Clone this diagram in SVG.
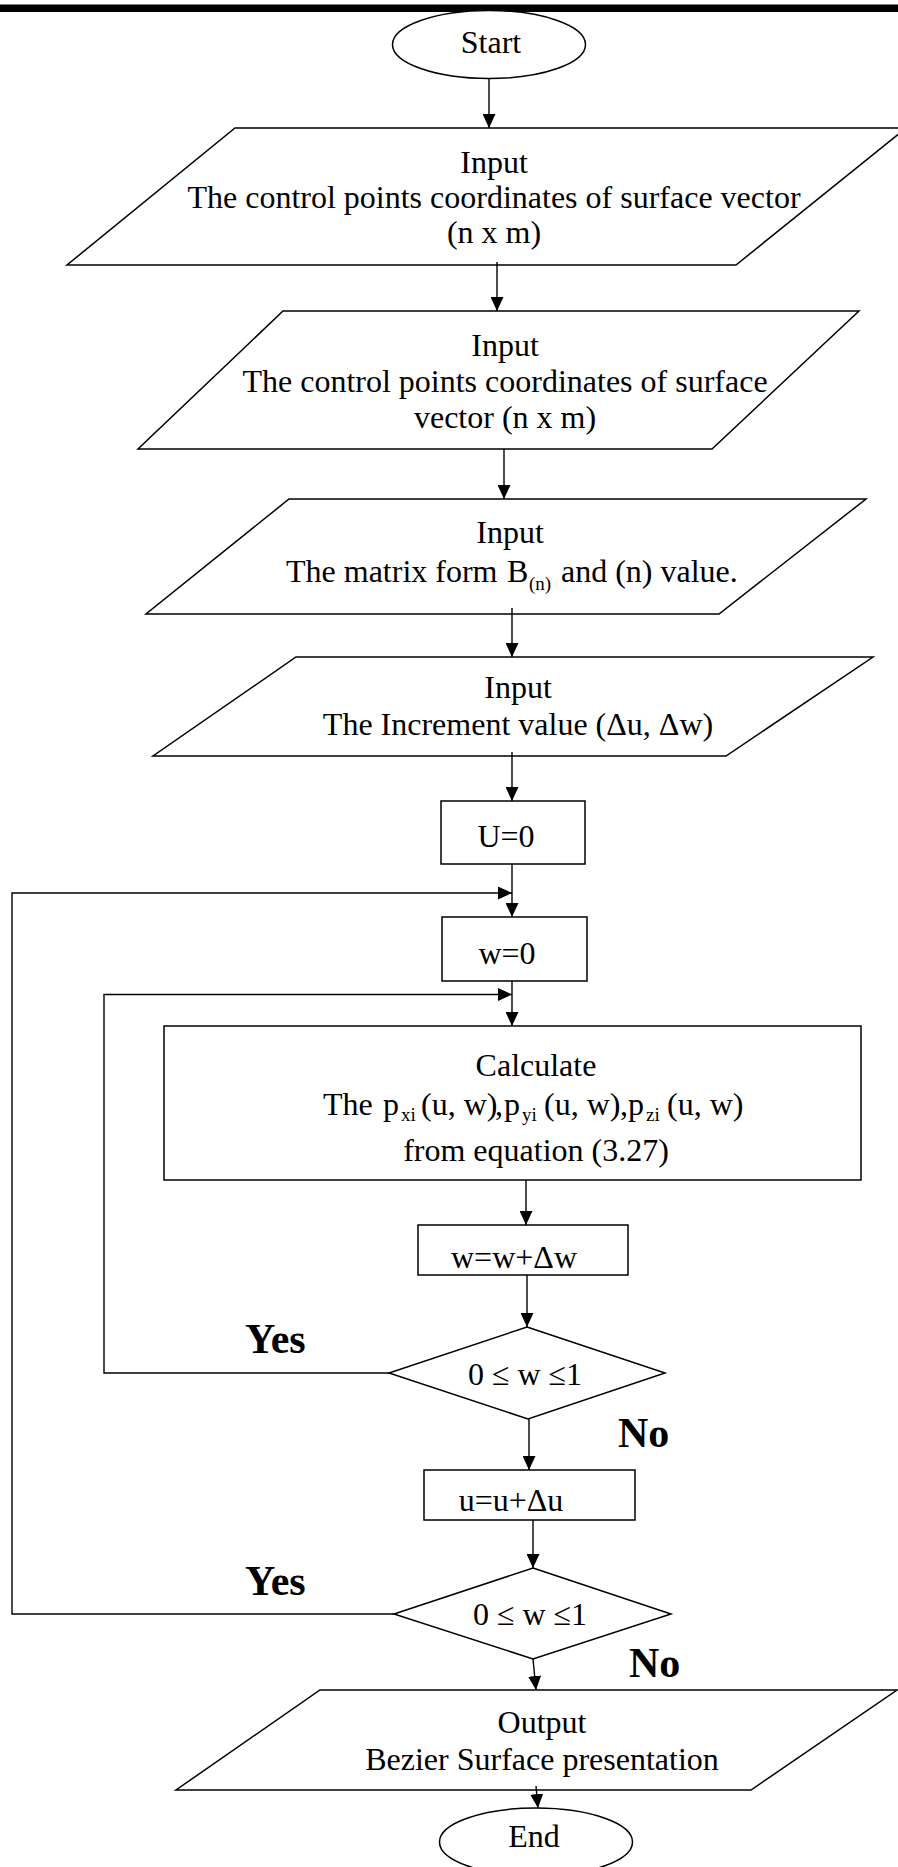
<svg xmlns="http://www.w3.org/2000/svg" width="898" height="1867" viewBox="0 0 898 1867">
<style>
.s{fill:#fff;stroke:#000;stroke-width:1.5}
.c{fill:none;stroke:#000;stroke-width:1.4}
.t{font-family:"Liberation Serif","Times New Roman",serif;font-size:32px;fill:#000}
.m{text-anchor:middle}
.sub{font-size:19px}
.b{font-family:"Liberation Serif","Times New Roman",serif;font-size:42px;font-weight:bold;fill:#000}
</style>
<defs>
<marker id="ah" markerUnits="userSpaceOnUse" markerWidth="14" markerHeight="13" refX="14" refY="6.5" orient="auto">
<path d="M0,0 L14,6.5 L0,13 Z" fill="#000"/>
</marker>
</defs>
<rect x="0" y="0" width="898" height="1867" fill="#fff"/>
<rect x="0" y="4.5" width="898" height="7.5" fill="#000"/>

<g id="start">
<ellipse class="s" cx="489" cy="44.5" rx="96.5" ry="34"/>
<text class="t m" x="491" y="53">Start</text>
</g>

<g id="input1">
<polygon class="s" points="235,128 906,128 736,265 67,265"/>
<text class="t m" x="494" y="173">Input</text>
<text class="t m" x="494" y="208">The control points coordinates of surface vector</text>
<text class="t m" x="494" y="243">(n x m)</text>
</g>

<g id="input2">
<polygon class="s" points="283,311 859,311 712,449 138,449"/>
<text class="t m" x="505" y="356">Input</text>
<text class="t m" x="505" y="392">The control points coordinates of surface</text>
<text class="t m" x="505" y="428">vector (n x m)</text>
</g>

<g id="input3">
<polygon class="s" points="289,499 866,499 719,614 146,614"/>
<text class="t m" x="510" y="543">Input</text>
<text class="t" y="582"><tspan x="286">The matrix form</tspan><tspan x="507">B</tspan><tspan class="sub" x="529" dy="8">(n)</tspan><tspan x="561" dy="-8">and (n) value.</tspan></text>
</g>

<g id="input4">
<polygon class="s" points="296,657 873,657 726,756 153,756"/>
<text class="t m" x="518" y="698">Input</text>
<text class="t m" x="518" y="735">The Increment value (Δu, Δw)</text>
</g>

<g id="u0">
<rect class="s" x="441" y="801" width="144" height="63"/>
<text class="t m" x="506" y="847">U=0</text>
</g>

<g id="w0">
<rect class="s" x="442" y="917" width="145" height="64"/>
<text class="t m" x="507" y="964">w=0</text>
</g>

<g id="calc">
<rect class="s" x="164" y="1026" width="697" height="154"/>
<text class="t m" x="536" y="1076">Calculate</text>
<text class="t" y="1115"><tspan x="323">The</tspan><tspan x="383">p</tspan><tspan class="sub" x="401" dy="6">xi</tspan><tspan x="421" dy="-6">(u, w)</tspan><tspan x="495">,</tspan><tspan x="504">p</tspan><tspan class="sub" x="522" dy="6">yi</tspan><tspan x="544" dy="-6">(u, w)</tspan><tspan x="620">,</tspan><tspan x="628">p</tspan><tspan class="sub" x="646" dy="6">zi</tspan><tspan x="667" dy="-6">(u, w)</tspan></text>
<text class="t m" x="536" y="1161">from equation (3.27)</text>
</g>

<g id="wadd">
<rect class="s" x="418" y="1225" width="210" height="50"/>
<text class="t m" x="514" y="1268">w=w+Δw</text>
</g>

<g id="dec1">
<polygon class="s" points="527,1327 665,1373 528,1419 389,1373"/>
<text class="t m" x="525" y="1385">0 ≤ w ≤1</text>
</g>

<g id="uadd">
<rect class="s" x="424" y="1470" width="211" height="50"/>
<text class="t m" x="511" y="1511">u=u+Δu</text>
</g>

<g id="dec2">
<polygon class="s" points="533,1568 671,1614 533,1659 394,1614"/>
<text class="t m" x="530" y="1625">0 ≤ w ≤1</text>
</g>

<g id="output">
<polygon class="s" points="320,1690 897,1690 751,1790 176,1790"/>
<text class="t m" x="542" y="1733">Output</text>
<text class="t m" x="542" y="1770">Bezier Surface presentation</text>
</g>

<g id="end">
<ellipse class="s" cx="536" cy="1842" rx="96.5" ry="34"/>
<text class="t m" x="534" y="1847">End</text>
</g>

<g id="labels">
<text class="b" x="245" y="1353">Yes</text>
<text class="b" x="618" y="1447">No</text>
<text class="b" x="245" y="1595">Yes</text>
<text class="b" x="629" y="1677">No</text>
</g>

<g id="connectors">
<line class="c" x1="489" y1="79" x2="489" y2="128" marker-end="url(#ah)"/>
<line class="c" x1="497" y1="262" x2="497" y2="311" marker-end="url(#ah)"/>
<line class="c" x1="504" y1="449" x2="504" y2="499" marker-end="url(#ah)"/>
<line class="c" x1="512" y1="608" x2="512" y2="657" marker-end="url(#ah)"/>
<line class="c" x1="512" y1="752" x2="512" y2="801" marker-end="url(#ah)"/>
<line class="c" x1="512" y1="864" x2="512" y2="917" marker-end="url(#ah)"/>
<polyline class="c" points="394,1614 12,1614 12,893 512,893" marker-end="url(#ah)"/>
<line class="c" x1="512" y1="981" x2="512" y2="1026" marker-end="url(#ah)"/>
<polyline class="c" points="389,1373 104,1373 104,994.5 512,994.5" marker-end="url(#ah)"/>
<line class="c" x1="526" y1="1180" x2="526" y2="1225" marker-end="url(#ah)"/>
<line class="c" x1="527" y1="1275" x2="527" y2="1327" marker-end="url(#ah)"/>
<line class="c" x1="529" y1="1419" x2="529" y2="1470" marker-end="url(#ah)"/>
<line class="c" x1="533" y1="1520" x2="533" y2="1568" marker-end="url(#ah)"/>
<line class="c" x1="533" y1="1659" x2="536" y2="1690" marker-end="url(#ah)"/>
<line class="c" x1="536" y1="1786" x2="538" y2="1808" marker-end="url(#ah)"/>
</g>
</svg>
